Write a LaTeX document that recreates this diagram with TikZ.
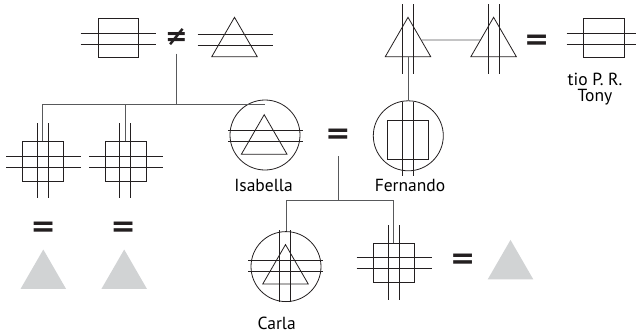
\documentclass[tikz,border=0pt]{standalone}
\usepackage{fontspec}
\setmainfont{PT Sans}
\newfontfamily\tiefont{DejaVu Sans}
\usetikzlibrary{shapes.geometric}
\definecolor{Ink}{HTML}{231F20}
\definecolor{LinkGrey}{HTML}{58595B}
\definecolor{GhostGrey}{HTML}{D1D3D4}
% double strokes through a symbol: centre x, centre y, half length
\newcommand{\hbars}[3]{\foreach \dy in {-5.5,5.5}{\draw[bar] ({#1-#3},{#2+\dy}) -- ({#1+#3},{#2+\dy});}}
% x, top y, bottom y
\newcommand{\vbars}[3]{\foreach \dx in {-5.5,5.5}{\draw[bar] ({#1+\dx},#2) -- ({#1+\dx},#3);}}

\begin{document}
\begin{tikzpicture}[x=1pt,y=-1pt,font=\fontsize{17.5}{20}\selectfont,
  kin/.style={draw=Ink,line width=0.8pt,inner sep=0pt},
  bar/.style={draw=Ink,line width=0.8pt},
  link/.style={draw=LinkGrey,line width=0.9pt},
  male/.style={kin,rectangle,minimum width=40.5,minimum height=39.5},
  female/.style={kin,regular polygon,regular polygon sides=3,minimum size=52.6},
  ring/.style={kin,circle,minimum size=70},
  ghost/.style={regular polygon,regular polygon sides=3,minimum size=52.6,inner sep=0pt,fill=GhostGrey},
  tie/.style={font=\tiefont\bfseries\fontsize{30}{30}\selectfont,text=Ink,inner sep=0pt}]
\useasboundingbox (0,0) rectangle (636,335);

% top generation
\node[male] (gpa) at (118.2,38) {};
\hbars{118.2}{38.7}{37.5}
\node[tie,font=\tiefont\bfseries\fontsize{27}{27}\selectfont] (neq) at (176.5,37.5) {≠};
\node[female] (gma) at (234.5,43.6) {};
\hbars{235.2}{39.8}{37.5}

\node[female] (fgpa) at (408,43.6) {};
\vbars{408}{4}{74}
\node[female] (fgma) at (493.6,43.6) {};
\vbars{493.8}{4}{74}
\draw[link] (fgpa.15) -- (fgma.165);
\node[tie] (eq1) at (536.7,41.8) {=};
\node[male] (tio) at (603.7,37.8) {};
\hbars{601.3}{38.7}{34.7}
\node (tiolab) at (595,79.5) {tio P. R.};
\node (tony) at (595,97.5) {Tony};

% middle generation
\coordinate (sib) at (174,104.3);
\node[male] (sq1) at (42.9,161.3) {};
\hbars{43.3}{161.7}{37.3}
\vbars{43}{123.3}{198.3}
\node[male] (sq2) at (125.7,161.3) {};
\hbars{126.3}{161.7}{37}
\vbars{125.3}{123.3}{198.3}

\node[ring] (isa) at (265,135) {};
\node[female] at (264.2,141) {};
\hbars{265.5}{135.85}{37.2}
\node (isalab) at (263.5,185) {Isabella};
\node[tie] (eq2) at (338,136.2) {=};
\node[ring] (fer) at (408.3,135.8) {};
\node[male] at (408,140) {};
\vbars{408.3}{102}{176}
\node (ferlab) at (410,185) {Fernando};

\draw[link] ([yshift=-16pt]neq.center) -- (neq.center |- sib);
\draw[link] (sq1.north) -- (sq1.north |- sib) -- (isa.north |- sib);
\draw[link] (sq2.north) -- (sq2.north |- sib);
\draw[link] (fgpa.south) -- (fgpa.south |- fer.north);

\node[tie] (eq4) at (43.3,229.5) {=};
\node[ghost] (gh1) at (43.3,275.8) {};
\node[tie] (eq5) at (123.3,229.5) {=};
\node[ghost] (gh2) at (124.2,275.8) {};

% bottom generation
\coordinate (kids) at (338,200.7);
\node[ring] (carla) at (286,266.6) {};
\node[female] at (285.5,270.9) {};
\hbars{285.5}{266.2}{37.2}
\vbars{285.2}{230}{302}
\node (carlalab) at (276.7,323.5) {Carla};
\node[male] (sq3) at (393.7,262.7) {};
\hbars{394.2}{262.8}{37.5}
\vbars{394.2}{225}{300}
\node[tie] (eq3) at (462.7,261.2) {=};
\node[ghost] (gh3) at (510.5,266.2) {};

\draw[link] ([yshift=-20pt]eq2.center) -- (eq2.center |- kids);
\draw[link] (carla.north) -- (carla.north |- kids) -- (sq3.north |- kids) -- (sq3.north);
\end{tikzpicture}
\end{document}
